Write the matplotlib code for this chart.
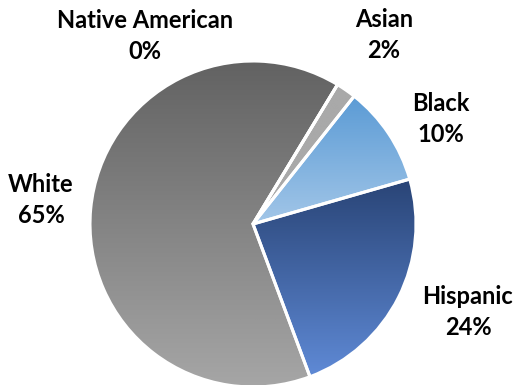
import numpy as np
import matplotlib.pyplot as plt
from matplotlib.colors import LinearSegmentedColormap

# Data
groups = ['Black', 'Asian', 'Native American', 'White', 'Hispanic']
shares = [10, 2, 0, 65, 24]

# gradient colours per slice (top, bottom)
grads = [('#5b9bd5', '#a2c6e8'),
         ('#a9a9a9', '#a9a9a9'),
         ('#646464', '#646464'),
         ('#626262', '#a6a6a6'),
         ('#294476', '#5f8ad6')]

# label positions (data units, pie radius = 1)
label_pos = [(1.153, 0.644), (0.804, 1.16), (-0.663, 1.153), (-1.301, 0.147), (1.319, -0.54)]

fig = plt.figure(figsize=(5.2, 3.85), dpi=100)
ax = fig.add_axes([0, 0, 1, 1])

wedges, _ = ax.pie(shares, startangle=16, counterclock=True,
                   wedgeprops=dict(edgecolor='white', linewidth=2.2))

for w, (c_top, c_bot) in zip(wedges, grads):
    w.set_facecolor('none')
    th1, th2 = np.radians(w.theta1), np.radians(w.theta2)
    angs = np.linspace(th1, th2, 60)
    ys = np.concatenate([[0], np.sin(angs)])
    xs = np.concatenate([[0], np.cos(angs)])
    if ys.max() - ys.min() < 1e-6:
        continue
    cmap = LinearSegmentedColormap.from_list('g', [c_bot, c_top])
    grad = np.linspace(0, 1, 256).reshape(-1, 1)
    im = ax.imshow(grad, cmap=cmap, origin='lower', aspect='auto',
                   extent=[xs.min(), xs.max(), ys.min(), ys.max()], zorder=1)
    im.set_clip_path(w)
    w.set_zorder(2)

for g, v, (x, y) in zip(groups, shares, label_pos):
    ax.text(x, y, f'{g}\n{v}%', ha='center', va='center', fontsize=17,
            fontweight='bold', family='Lato', linespacing=1.4, color='black')

ax.set_xlim(-253 / 163, 267 / 163)
ax.set_ylim(-161 / 163, 224 / 163)
ax.set_aspect('auto')
ax.axis('off')

fig.savefig('out.png', dpi=100)
